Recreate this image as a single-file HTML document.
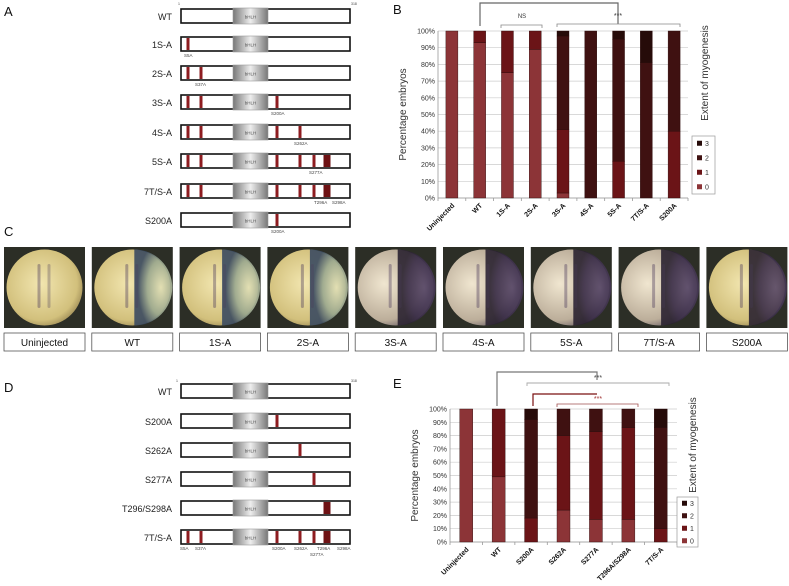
<!DOCTYPE html>
<html><head><meta charset="utf-8"><style>
body{margin:0;background:#fff;width:789px;height:586px;overflow:hidden;font-family:"Liberation Sans",sans-serif}
svg{display:block}
</style></head><body>
<svg id="fig" width="789" height="586" viewBox="0 0 789 586" font-family="Liberation Sans, sans-serif">
<defs>
<linearGradient id="bh" x1="0" x2="1"><stop offset="0" stop-color="#777"/><stop offset="0.5" stop-color="#eee"/><stop offset="1" stop-color="#777"/></linearGradient>
<radialGradient id="eY" cx="0.45" cy="0.45" r="0.6"><stop offset="0" stop-color="#f2e6b0"/><stop offset="0.8" stop-color="#d2c07c"/><stop offset="1" stop-color="#9c8a55"/></radialGradient>
<radialGradient id="eG" cx="0.7" cy="0.5" r="0.6"><stop offset="0" stop-color="#e4e2b8"/><stop offset="0.6" stop-color="#9aa890"/><stop offset="1" stop-color="#3a4a60"/></radialGradient>
<radialGradient id="eP" cx="0.7" cy="0.5" r="0.6"><stop offset="0" stop-color="#5a4a6a"/><stop offset="0.7" stop-color="#3a2d48"/><stop offset="1" stop-color="#2a2230"/></radialGradient>
<radialGradient id="eW" cx="0.35" cy="0.45" r="0.6"><stop offset="0" stop-color="#f0e6d0"/><stop offset="0.8" stop-color="#bcae9a"/><stop offset="1" stop-color="#7a6e70"/></radialGradient>
</defs>
<g id="static"></g>
<g id="chartB"></g>
<g id="chartE"></g>
</svg>
<script>
// ---- Chart B data ----
const catsB = ["Uninjected","WT","1S-A","2S-A","3S-A","4S-A","5S-A","7T/S-A","S200A"];
const b0 = [100,93,75,89,3,0,0,0,0];
const b1 = [0,7,25,11,38,0,22,0,40];
const b2 = [0,0,0,0,56,100,73,81,60];
const b3 = [0,0,0,0,3,0,5,19,0];
// ---- Chart E data ----
const catsE = ["Uninjected","WT","S200A","S262A","S277A","T296A/S298A","7T/S-A"];
const e0 = [100,49,0,24,17,17,0];
const e1 = [0,51,18,56,66,69,10];
const e2 = [0,0,74,20,17,14,76];
const e3 = [0,0,8,0,0,0,14];
const yTicks = [0,10,20,30,40,50,60,70,80,90,100];
const legendKeys = ["3","2","1","0"];
const colors = ["#8c3437","#6b1417","#3f1111","#260b09"];

const NS="http://www.w3.org/2000/svg";
function el(tag,attrs,parent,text){const e=document.createElementNS(NS,tag);for(const k in attrs)e.setAttribute(k,attrs[k]);if(text!==undefined)e.textContent=text;parent.appendChild(e);return e;}

const st=document.getElementById('static');
[["A",4,16],["B",393,14],["C",4,236],["D",4,392],["E",393,388]].forEach(p=>{
  const t=el('text',{x:p[1],y:p[2],'font-size':13,fill:'#111'},st,p[0]);
  
  
});

const xs={5:188,37:201,200:277,262:300,277:314,296:327,298:331};
function diagram(label,y,muts,labels){
  const g=el('g',{},st);
  
  
  el('text',{x:172,y:y+11,'font-size':9,'text-anchor':'end',fill:'#222'},g,label);
  el('rect',{x:181,y:y,width:169,height:14,fill:'#fff',stroke:'#111','stroke-width':1.6},g);
  el('rect',{x:233,y:y-1,width:35,height:16,fill:'url(#bh)',stroke:'#999','stroke-width':0.6},g);
  el('text',{x:250.5,y:y+9.5,'font-size':4.5,'text-anchor':'middle',fill:'#555'},g,'bHLH');
  muts.forEach(m=>{
    const w=(m===296)?7:3;
    el('rect',{x:xs[m]-w/2,y:y+1,width:w,height:12,fill:(m===296?'#6e1214':'#8e1c20')},g);
  });
  labels.forEach(l=>el('text',{x:l[1],y:y+20+(l[2]||0),'font-size':4.5,fill:'#444'},g,l[0]));
}
el('text',{x:178,y:5,'font-size':3.5,fill:'#444'},st,'1');
el('text',{x:351,y:5,'font-size':3.5,fill:'#444'},st,'318');
diagram('WT',9,[],[]);
diagram('1S-A',37,[5],[['S5A',184]]);
diagram('2S-A',66,[5,37],[['S37A',195]]);
diagram('3S-A',95,[5,37,200],[['S200A',271]]);
diagram('4S-A',125,[5,37,200,262],[['S262A',294]]);
diagram('5S-A',154,[5,37,200,262,277,296],[['S277A',309]]);
diagram('7T/S-A',184,[5,37,200,262,277,296],[['T296A',314],['S298A',332]]);
diagram('S200A',213,[200],[['S200A',271]]);

el('text',{x:176,y:382,'font-size':3.5,fill:'#444'},st,'1');
el('text',{x:351,y:382,'font-size':3.5,fill:'#444'},st,'318');
diagram('WT',384,[],[]);
diagram('S200A',414,[200],[]);
diagram('S262A',443,[262],[]);
diagram('S277A',472,[277],[]);
diagram('T296/S298A',501,[296],[]);
diagram('7T/S-A',530,[5,37,200,262,277,296],[['S5A',180],['S37A',195],['S200A',272],['S262A',294],['T296A',317],['S298A',337],['S277A',310,6]]);

const emb=[["Uninjected","eY",null],["WT","eY","eG"],["1S-A","eY","eG"],["2S-A","eY","eG"],["3S-A","eW","eP"],["4S-A","eW","eP"],["5S-A","eW","eP"],["7T/S-A","eW","eP"],["S200A","eY","eP"]];
emb.forEach((e,i)=>{
  const x=4+i*87.8, w=81;
  const g=el('g',{},st);
  
  
  el('rect',{x:x,y:247,width:w,height:81,fill:'#2c2e26'},g);
  el('circle',{cx:x+w/2,cy:287.5,r:38,fill:'url(#'+e[1]+')'},g);
  if(e[2]){el('path',{d:`M${x+w/2+2},${249.5} A38,38 0 0 1 ${x+w/2+2},${325.5} Z`,fill:'url(#'+e[2]+')',opacity:0.9},g);}
  el('rect',{x:x+w/2-7,y:264,width:3,height:44,rx:1.5,fill:'#4a3a5a',opacity:0.4},g);
  el('rect',{x:x+w/2+3,y:264,width:3,height:44,rx:1.5,fill:'#4a3a5a',opacity:0.3},g);
  const lb=el('g',{},st);
  
  
  el('rect',{x:x,y:333,width:w,height:18,fill:'#fff',stroke:'#555','stroke-width':0.8},lb);
  el('text',{x:x+w/2,y:346,'font-size':10,'text-anchor':'middle',fill:'#111'},lb,e[0]);
});

function chart(gid,cats,series,L){
  const g=document.getElementById(gid);
  const n=cats.length, step=(L.x1-L.x0)/n;
  const y=v=>L.y0-(L.y0-L.y1)*v/100;
  const xc=i=>L.x0+step*(i+0.5);
  yTicks.forEach(t=>{
    const gl=el('line',{x1:L.x0,x2:L.x1,y1:y(t),y2:y(t),stroke:'#ccc','stroke-width':0.7},g);
    
    const tl=el('text',{x:L.x0-3,y:y(t)+2.5,'font-size':7,'text-anchor':'end',fill:'#333'},g,t+'%');
    
  });
  el('line',{x1:L.x0,x2:L.x0,y1:L.y1,y2:L.y0,stroke:'#999','stroke-width':0.8},g);
  el('line',{x1:L.x0,x2:L.x1,y1:L.y0,y2:L.y0,stroke:'#999','stroke-width':0.8},g);
  for(let i=0;i<=n;i++)el('line',{x1:L.x0+step*i,x2:L.x0+step*i,y1:L.y0,y2:L.y0+3,stroke:'#999','stroke-width':0.8},g);
  cats.forEach((c,i)=>{
    let acc=0;
    series.forEach((s,k)=>{
      if(s[i]>0){
        const r=el('rect',{x:xc(i)-L.bw/2,y:y(acc+s[i]),width:L.bw,height:y(acc)-y(acc+s[i]),fill:colors[k],stroke:'#2a0a0a','stroke-width':0.4},g);
        
        
      }
      acc+=s[i];
    });
    const tx=xc(i)+3, ty=L.y0+8;
    const t=el('text',{x:tx,y:ty,'font-size':7,'font-weight':'bold','text-anchor':'end',fill:'#111',transform:`rotate(-45 ${tx} ${ty})`},g,c);
    
  });
  const yt=el('text',{x:L.ytx,y:(L.y0+L.y1)/2,'font-size':10,'text-anchor':'middle',fill:'#333',transform:`rotate(-90 ${L.ytx} ${(L.y0+L.y1)/2})`},g,'Percentage embryos');
  
  const et=el('text',{x:L.etx,y:L.ety,'font-size':10,'text-anchor':'middle',fill:'#333',transform:`rotate(-90 ${L.etx} ${L.ety})`},g,'Extent of myogenesis');
  
  const lg=el('g',{},g);
  
  el('rect',{x:L.lx,y:L.ly,width:L.lw,height:L.lh,fill:'#fff',stroke:'#999','stroke-width':0.7},lg);
  legendKeys.forEach((k,j)=>{
    const ey=L.ly+L.lh*(j+0.5)/4;
    const en=el('g',{},lg);
    
    el('rect',{x:L.lx+5,y:ey-2.5,width:5,height:5,fill:colors[3-j]},en);
    el('text',{x:L.lx+13,y:ey+2.5,'font-size':7,fill:'#333'},en,k);
  });
}
chart('chartB',catsB,[b0,b1,b2,b3],{x0:438,x1:688,y0:198,y1:31,bw:12,ytx:406,etx:708,ety:73,lx:692,ly:136,lw:23,lh:58});
chart('chartE',catsE,[e0,e1,e2,e3],{x0:450,x1:677,y0:542,y1:409,bw:13,ytx:418,etx:696,ety:445,lx:677,ly:497,lw:21,lh:50});

const gb=document.getElementById('chartB');
function pl(g,pts,c,w){const p=el('polyline',{points:pts,fill:'none',stroke:c,'stroke-width':w},g);}
pl(gb,'480,26 480,3 618,3 618,24','#666',1.2);
pl(gb,'501,28 501,25 542,25 542,28','#888',0.8);
pl(gb,'557,27 557,24 680,24 680,27','#888',0.8);
el('text',{x:522,y:18,'font-size':6,'text-anchor':'middle',fill:'#333'},gb,'NS');
el('text',{x:618,y:18,'font-size':7,'text-anchor':'middle',fill:'#333'},gb,'***');
const ge=document.getElementById('chartE');
pl(ge,'497,406 497,372 597,372 597,380','#777',1.2);
pl(ge,'527,386 527,383 669,383 669,386','#aaa',0.9);
el('text',{x:598,y:380,'font-size':7,'text-anchor':'middle',fill:'#444'},ge,'***');
pl(ge,'533,406 533,394 597,394','#7a1010',1.2);
pl(ge,'557,407 557,404 638,404 638,407','#a05050',0.8);
el('text',{x:598,y:401,'font-size':7,'text-anchor':'middle',fill:'#a03030'},ge,'***');
</script>
</body></html>
